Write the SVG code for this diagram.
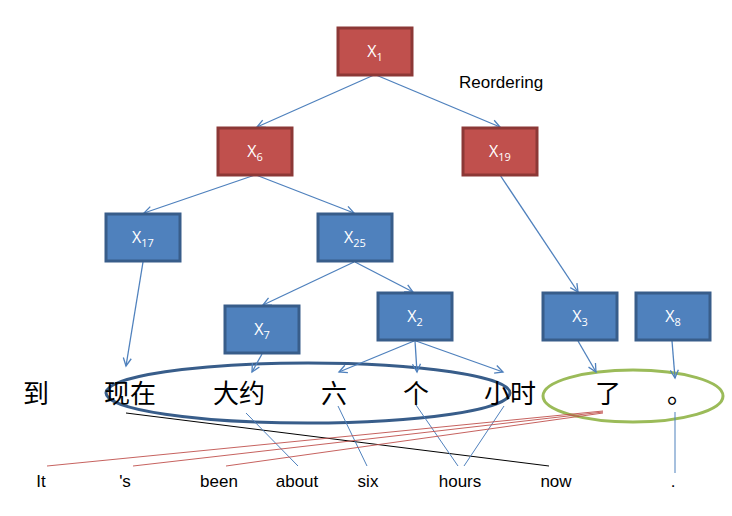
<svg xmlns="http://www.w3.org/2000/svg" width="732" height="516" viewBox="0 0 732 516">
<style>
.red rect{fill:#c0504d;stroke:#8c3836;stroke-width:3}
.blue rect{fill:#4f81bd;stroke:#385d8a;stroke-width:3}
.lbl{font-family:"Open Sans","Liberation Sans",Arial,sans-serif;font-size:16px;fill:#fff;text-anchor:middle}
.sub{font-size:11px}
.edge{stroke:#4f81bd;stroke-width:1.3;fill:none;marker-end:url(#arr)}
.align{stroke:#4f81bd;stroke-width:1;fill:none}
.redl{stroke:#c0504d;stroke-width:0.9;fill:none}
.zh{font-family:"Noto Sans CJK SC","Noto Sans CJK JP",sans-serif;font-size:26px;fill:#000}
.en{font-family:"Liberation Sans",Arial,sans-serif;font-size:17px;fill:#000;text-anchor:middle}
</style>
<defs>
<marker id="arr" markerUnits="userSpaceOnUse" markerWidth="12" markerHeight="12" refX="10" refY="6" orient="auto" viewBox="0 0 12 12">
<path d="M2,2 L10,6 L2,10" fill="none" stroke="#4f81bd" stroke-width="1.3"/>
</marker>
</defs>
<rect width="732" height="516" fill="#fff"/>

<g id="ellipses">
<ellipse cx="308" cy="393" rx="202" ry="30" fill="none" stroke="#385d8a" stroke-width="3"/>
<ellipse cx="633" cy="396" rx="90" ry="26" fill="none" stroke="#9bbb59" stroke-width="3"/>
</g>

<g id="connectors">
<line class="edge" x1="374" y1="75" x2="257" y2="127"/>
<line class="edge" x1="376" y1="75" x2="500" y2="127"/>
<line class="edge" x1="255" y1="175" x2="144" y2="213"/>
<line class="edge" x1="256" y1="175" x2="354" y2="213"/>
<line class="edge" x1="354" y1="262" x2="263" y2="305"/>
<line class="edge" x1="355" y1="262" x2="413" y2="292"/>
<line class="edge" x1="143" y1="262" x2="126" y2="366"/>
<line class="edge" x1="500" y1="175" x2="578" y2="292"/>
<line class="edge" x1="262" y1="354" x2="252" y2="372"/>
<line class="edge" x1="414" y1="341" x2="339" y2="372"/>
<line class="edge" x1="415" y1="341" x2="417" y2="372"/>
<line class="edge" x1="416" y1="341" x2="503" y2="372"/>
<line class="edge" x1="578" y1="341" x2="596" y2="372"/>
<line class="edge" x1="672" y1="341" x2="675" y2="378"/>
</g>

<g id="alignments">
<line x1="126" y1="413" x2="549" y2="466" stroke="#000" stroke-width="1"/>
<line class="align" x1="246" y1="413" x2="298" y2="466"/>
<line class="align" x1="338" y1="406" x2="367" y2="466"/>
<line class="align" x1="416" y1="405" x2="458" y2="466"/>
<line class="align" x1="504" y1="406" x2="464" y2="466"/>
<line class="align" x1="675" y1="412" x2="675" y2="473"/>
<line class="redl" x1="603" y1="411" x2="47" y2="466"/>
<line class="redl" x1="603" y1="412" x2="133" y2="466"/>
<line class="redl" x1="603" y1="413" x2="226" y2="466"/>
</g>

<g id="X1" class="red"><rect x="338" y="28" width="74" height="47"/><text class="lbl" x="375" y="57">X<tspan class="sub" dy="4">1</tspan></text></g>
<g id="X6" class="red"><rect x="218" y="128" width="74" height="47"/><text class="lbl" x="255" y="157">X<tspan class="sub" dy="4">6</tspan></text></g>
<g id="X19" class="red"><rect x="463" y="128" width="74" height="47"/><text class="lbl" x="500" y="157">X<tspan class="sub" dy="4">19</tspan></text></g>
<g id="X17" class="blue"><rect x="106" y="214" width="74" height="47"/><text class="lbl" x="143" y="243">X<tspan class="sub" dy="4">17</tspan></text></g>
<g id="X25" class="blue"><rect x="318" y="214" width="74" height="47"/><text class="lbl" x="355" y="243">X<tspan class="sub" dy="4">25</tspan></text></g>
<g id="X7" class="blue"><rect x="225" y="306" width="74" height="47"/><text class="lbl" x="262" y="335">X<tspan class="sub" dy="4">7</tspan></text></g>
<g id="X2" class="blue"><rect x="378" y="293" width="74" height="47"/><text class="lbl" x="415" y="322">X<tspan class="sub" dy="4">2</tspan></text></g>
<g id="X3" class="blue"><rect x="543" y="293" width="74" height="47"/><text class="lbl" x="580" y="322">X<tspan class="sub" dy="4">3</tspan></text></g>
<g id="X8" class="blue"><rect x="636" y="293" width="74" height="47"/><text class="lbl" x="673" y="322">X<tspan class="sub" dy="4">8</tspan></text></g>

<text x="459" y="88" font-family="Liberation Sans,Arial,sans-serif" font-size="17" fill="#000">Reordering</text>

<g id="chinese">
<text class="zh" x="23" y="403">到</text>
<text class="zh" x="104" y="403">现在</text>
<text class="zh" x="213" y="403">大约</text>
<text class="zh" x="321" y="403">六</text>
<text class="zh" x="403" y="403">个</text>
<text class="zh" x="484" y="403">小时</text>
<text class="zh" x="595" y="403">了</text>
<text class="zh" x="667" y="403">。</text>
</g>

<g id="english">
<text class="en" x="41" y="487">It</text>
<text class="en" x="125" y="487">'s</text>
<text class="en" x="219" y="487">been</text>
<text class="en" x="297" y="487">about</text>
<text class="en" x="368" y="487">six</text>
<text class="en" x="460" y="487">hours</text>
<text class="en" x="556" y="487">now</text>
<text class="en" x="673" y="487">.</text>
</g>
</svg>
